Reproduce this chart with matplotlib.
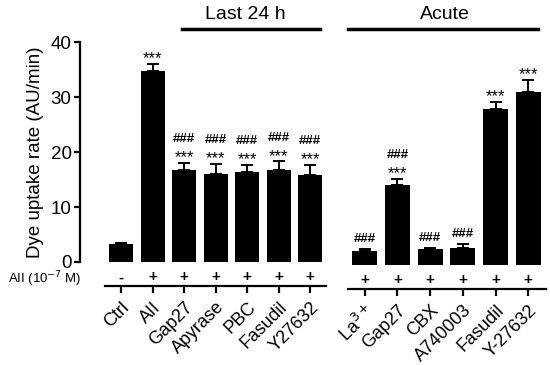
import numpy as np
import matplotlib
matplotlib.use("Agg")
import matplotlib.pyplot as plt
import matplotlib.transforms as mtransforms

plt.rcParams["font.family"] = ["Liberation Sans", "DejaVu Sans"]

# Last 24 h group
labels_24h = ["Ctrl", "AII", "Gap27", "Apyrase", "PBC", "Fasudil", "Y27632"]
means_24h = [3.2, 34.7, 16.8, 16.0, 16.3, 16.7, 15.8]
errs_24h = [0.3, 1.3, 1.2, 1.9, 1.3, 1.6, 1.9]
signs_24h = ["-", "+", "+", "+", "+", "+", "+"]
stars_24h = ["", "***", "***", "***", "***", "***", "***"]
hash_24h = ["", "", "###", "###", "###", "###", "###"]

# Acute group
labels_acute = ["La$^{3+}$", "Gap27", "CBX", "A740003", "Fasudil", "Y-27632"]
means_acute = [2.6, 14.5, 2.9, 3.0, 28.3, 31.4]
errs_acute = [0.3, 1.1, 0.2, 0.8, 1.3, 2.3]
signs_acute = ["+", "+", "+", "+", "+", "+"]
stars_acute = ["", "***", "", "", "***", "***"]
hash_acute = ["###", "###", "###", "###", "", ""]

fig = plt.figure(figsize=(5.5, 3.65), dpi=100)
ax1 = fig.add_axes([0.1455, 0.2822, 0.4545, 0.6027])
ax2 = fig.add_axes([0.618, 0.2740, 0.3818, 0.6027])


def draw_group(ax, labels, means, errs, signs, stars, hashes, spine_bounds):
    x = np.arange(len(means))
    ax.bar(x, means, width=0.76, color="black", zorder=2)
    ax.errorbar(x, means, yerr=[np.zeros(len(errs)), errs], fmt="none",
                ecolor="black", elinewidth=1.4, capsize=4.5, capthick=1.4, zorder=1)
    for xi, m, e, s, h in zip(x, means, errs, stars, hashes):
        top = m + e
        if s:
            ax.annotate(s, (xi, top), xytext=(0, 0.5), textcoords="offset points",
                        ha="center", va="baseline", fontsize=12)
            hoff = 15
        else:
            hoff = 5
        if h:
            ax.annotate(h, (xi, top), xytext=(0, hoff), textcoords="offset points",
                        ha="center", va="baseline", fontsize=9.5, fontweight="bold")
    # +/- row
    for xi, sg in zip(x, signs):
        ax.annotate(sg, (xi, 0), xytext=(0, -11), textcoords="offset points",
                    ha="center", va="center", fontsize=11, fontweight="bold")
    ax.set_ylim(0, 40)
    ax.set_xticks(x)
    ax.spines["top"].set_visible(False)
    ax.spines["right"].set_visible(False)
    ax.spines["bottom"].set_position(("outward", 17.5))
    ax.spines["bottom"].set_bounds(*spine_bounds)
    ax.spines["bottom"].set_linewidth(1.6)
    ax.tick_params(axis="x", length=5, width=1.6, pad=4)
    ax.set_xticklabels(labels, fontsize=13)
    for lab in ax.get_xticklabels():
        lab.set_rotation(45)
        lab.set_ha("right")
        lab.set_rotation_mode("anchor")


draw_group(ax1, labels_24h, means_24h, errs_24h, signs_24h, stars_24h, hash_24h, (-0.5, 6.5))
draw_group(ax2, labels_acute, means_acute, errs_acute, signs_acute, stars_acute, hash_acute, (-0.5, 5.55))

ax1.set_xlim(-1.3, 6.63)
ax2.set_xlim(-0.76, 5.66)

ax1.set_yticks([0, 10, 20, 30, 40])
ax1.tick_params(axis="y", length=4, width=1.6, labelsize=13.5, pad=2)
ax1.spines["left"].set_linewidth(1.6)
ax1.set_ylabel("Dye uptake rate (AU/min)", fontsize=13.5, labelpad=5)

ax2.spines["left"].set_visible(False)
ax2.set_yticks([])

# AII concentration row label
ax1.annotate("AII (10$^{-7}$ M)", (0, 0), xycoords="axes fraction", xytext=(1, -12.5),
             textcoords="offset points", ha="right", va="center", fontsize=9.5)

# group headers
tr1 = mtransforms.blended_transform_factory(ax1.transData, ax1.transAxes)
tr2 = mtransforms.blended_transform_factory(ax2.transData, ax2.transAxes)
ax1.plot([1.95, 6.3], [1.059, 1.059], color="black", lw=2.5, transform=tr1, clip_on=False)
ax1.text(3.94, 1.125, "Last 24 h", transform=tr1, ha="center", va="center", fontsize=14)
ax2.plot([-0.52, 5.3], [1.073, 1.073], color="black", lw=2.5, transform=tr2, clip_on=False)
ax2.text(2.45, 1.138, "Acute", transform=tr2, ha="center", va="center", fontsize=14)

fig.savefig("out.png", dpi=100)
